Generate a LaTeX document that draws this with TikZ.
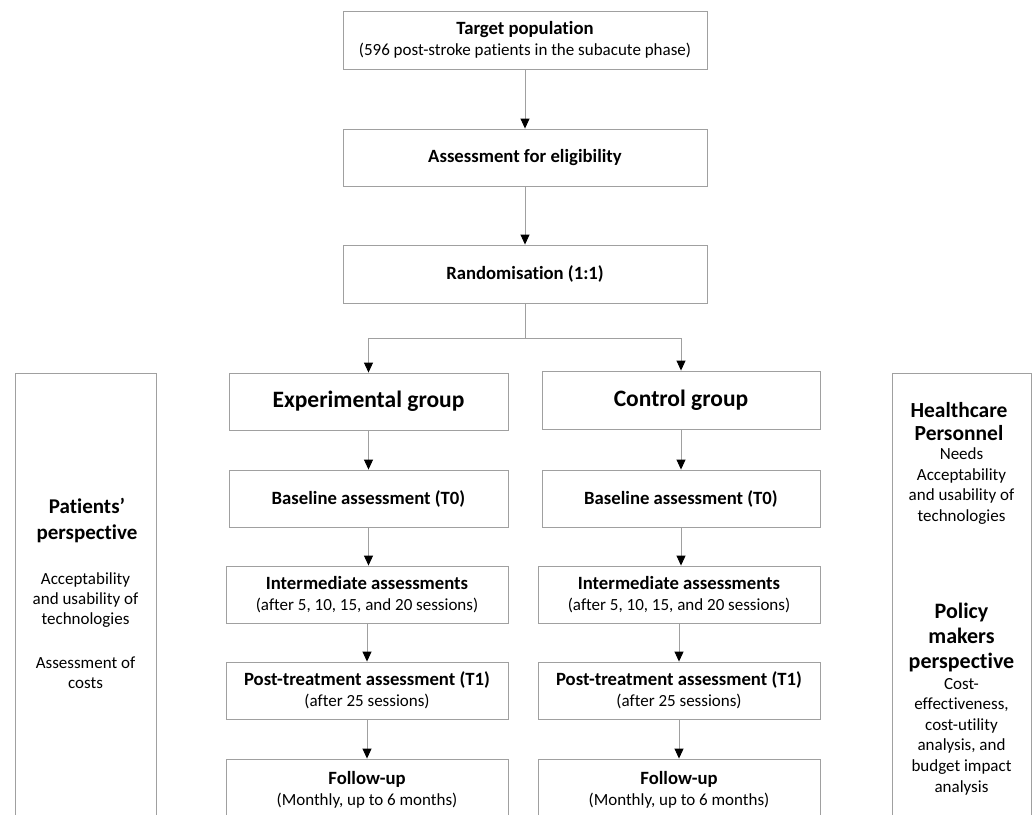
\documentclass[tikz,border=0pt]{standalone}
\usepackage{fontspec}
\setmainfont{Carlito}[Ligatures=NoCommon]
\usetikzlibrary{arrows.meta}
\definecolor{linegray}{RGB}{160,160,160}
\tikzset{
  box/.style={draw=linegray, line width=0.9pt, align=center, inner sep=2pt},
  ttl/.style={font=\fontsize{18.7}{23}\selectfont\bfseries},
  conn/.style={draw=linegray, line width=0.9pt, -{Triangle[width=9pt,length=10pt,black]}},
  plain/.style={draw=linegray, line width=0.9pt},
}
\newcommand{\subtxt}[1]{{\fontsize{17}{21}\selectfont\mdseries #1}}
\begin{document}
\begin{tikzpicture}[x=1pt,y=-1pt]
\useasboundingbox (0,0) rectangle (1035,814);
\clip (0,0) rectangle (1035,814);
% central column
\node[box, minimum width=364, minimum height=58, font=\fontsize{18.7}{22}\selectfont\bfseries] (tp) at (525,40) {Target population\\[-1pt]\subtxt{(596 post-stroke patients in the subacute phase)}};
\node[box, ttl, minimum width=364, minimum height=57] (ae) at (525,157.5) {Assessment for eligibility};
\node[box, ttl, minimum width=364, minimum height=58] (rd) at (525,274) {Randomisation (1:1)};
% groups
\node[box, minimum width=279, minimum height=57, font=\fontsize{23.5}{28}\selectfont\bfseries] (eg) at (368.5,401.5) {Experimental group};
\node[box, minimum width=278, minimum height=58, font=\fontsize{23.5}{28}\selectfont\bfseries] (cg) at (681,400) {Control group};
\node[box, ttl, minimum width=279, minimum height=57] (eb) at (368.5,498.5) {Baseline assessment (T0)};
\node[box, ttl, minimum width=278, minimum height=57] (cb) at (681,498.5) {Baseline assessment (T0)};
\node[box, minimum width=282, minimum height=57, font=\fontsize{18.7}{22}\selectfont\bfseries] (ei) at (367,594.5) {Intermediate assessments\\[-1pt]\subtxt{(after 5, 10, 15, and 20 sessions)}};
\node[box, minimum width=282, minimum height=57, font=\fontsize{18.7}{22}\selectfont\bfseries] (ci) at (679,594.5) {Intermediate assessments\\[-1pt]\subtxt{(after 5, 10, 15, and 20 sessions)}};
\node[box, minimum width=282, minimum height=57, font=\fontsize{18.7}{22}\selectfont\bfseries] (ep) at (367,690.5) {Post-treatment assessment (T1)\\[-1pt]\subtxt{(after 25 sessions)}};
\node[box, minimum width=282, minimum height=57, font=\fontsize{18.7}{22}\selectfont\bfseries] (cp) at (679,690.5) {Post-treatment assessment (T1)\\[-1pt]\subtxt{(after 25 sessions)}};
\node[box, minimum width=282, minimum height=62, font=\fontsize{18.7}{22}\selectfont\bfseries] (ef) at (367,790) {Follow-up\\[-1pt]\subtxt{(Monthly, up to 6 months)}};
\node[box, minimum width=282, minimum height=62, font=\fontsize{18.7}{22}\selectfont\bfseries] (cf) at (679,790) {Follow-up\\[-1pt]\subtxt{(Monthly, up to 6 months)}};
% side panels
\node[box, minimum width=141, minimum height=448] (lp) at (85.5,597) {};
\node[box, minimum width=139, minimum height=448] (rp) at (961.5,597) {};
\node[align=center, font=\fontsize{21}{26}\selectfont\bfseries] (lph) at (87,521) {Patients'\\perspective};
\node[align=center, font=\fontsize{17}{20}\selectfont] (lpb1) at (85.5,600) {Acceptability\\and usability of\\technologies};
\node[align=center, font=\fontsize{17}{20}\selectfont] (lpb2) at (85.5,673) {Assessment of\\costs};
\node[align=center, font=\fontsize{21.5}{23}\selectfont\bfseries] (rph1) at (959,421.5) {Healthcare\\Personnel};
\node[align=center, font=\fontsize{17}{20.7}\selectfont] (rpb1) at (961.5,486) {Needs\\Acceptability\\and usability of\\technologies};
\node[align=center, font=\fontsize{22}{25}\selectfont\bfseries] (rph2) at (961.5,637) {Policy\\makers\\perspective};
\node[align=center, font=\fontsize{17}{20.6}\selectfont] (rpb2) at (961.5,736.5) {Cost-\\effectiveness,\\cost-utility\\analysis, and\\budget impact\\analysis};
% connectors
\draw[conn] (tp) -- (ae);
\draw[conn] (ae) -- (rd);
\coordinate (split) at (525,338);
\draw[plain] (rd.south) -- (split);
\draw[conn] (split) -| (eg.north);
\draw[conn] (split) -| (cg.north);
\draw[conn] (eg) -- (eb);
\draw[conn] (cg) -- (cb);
\draw[conn] (eb.south) -- (eb.south |- ei.north);
\draw[conn] (cb.south) -- (cb.south |- ci.north);
\draw[conn] (ei.south) -- (ei.south |- ep.north);
\draw[conn] (ci.south) -- (ci.south |- cp.north);
\draw[conn] (ep.south) -- (ep.south |- ef.north);
\draw[conn] (cp.south) -- (cp.south |- cf.north);
\end{tikzpicture}
\end{document}
